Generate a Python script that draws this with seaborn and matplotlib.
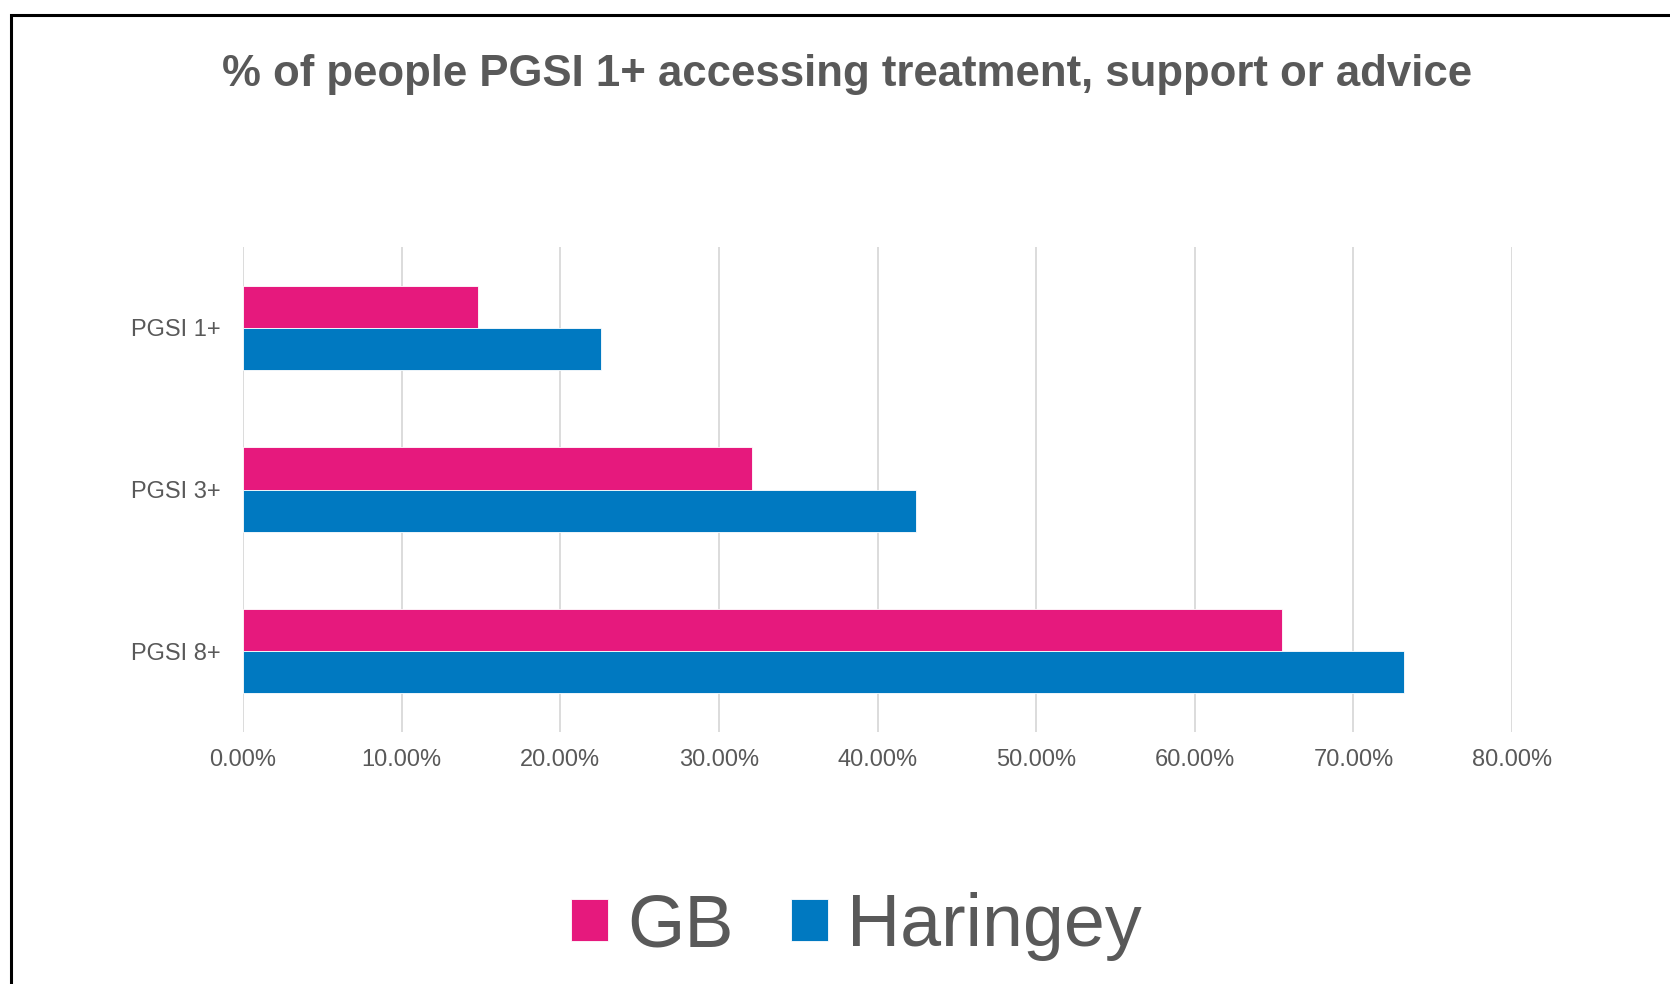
import matplotlib
matplotlib.use('Agg')
import matplotlib.pyplot as plt
import matplotlib.ticker as mtick
from matplotlib.patches import Rectangle
import pandas as pd
import seaborn as sns

# data
categories = ['PGSI 1+', 'PGSI 3+', 'PGSI 8+']
gb_values = [0.148, 0.321, 0.655]
haringey_values = [0.226, 0.424, 0.732]
series_names = ['GB', 'Haringey']

df = pd.DataFrame({
    'group': categories * 2,
    'value': gb_values + haringey_values,
    'series': [series_names[0]] * 3 + [series_names[1]] * 3,
})

sns.set_style('white')
plt.rcParams['font.family'] = ['Liberation Sans', 'DejaVu Sans']

grey = '#595959'
palette = {'GB': '#E6197D', 'Haringey': '#0079C1'}

fig = plt.figure(figsize=(16.7, 9.84), dpi=100)
ax = fig.add_axes([0.1455, 0.256, 0.7599, 0.493])

sns.barplot(data=df, y='group', x='value', hue='series', order=categories,
            hue_order=series_names, palette=palette, width=0.52,
            orient='h', ax=ax, edgecolor='white', linewidth=0.6, saturation=1)

ax.set_xlim(0, 0.8)
ax.set_ylim(2.5, -0.5)
ax.xaxis.set_major_locator(mtick.MultipleLocator(0.1))
ax.xaxis.set_major_formatter(mtick.PercentFormatter(1.0, decimals=2))
ax.grid(axis='x', color='#d9d9d9', linewidth=1.3)
ax.set_axisbelow(True)
ax.set_xlabel('')
ax.set_ylabel('')
ax.tick_params(axis='both', length=0, labelsize=17, labelcolor=grey)
ax.tick_params(axis='y', pad=16)
ax.tick_params(axis='x', pad=12)
for s in ax.spines.values():
    s.set_visible(False)

# title (no narrow font installed, so size chosen to match the width)
fig.text(0.507, 0.9126, '% of people PGSI 1+ accessing treatment, support or advice',
         ha='center', va='baseline', fontsize=31.5, fontweight='bold', color=grey)

# legend
ax.legend_.remove()
handles, labels = ax.get_legend_handles_labels()
leg = fig.legend(handles, labels, loc='center', bbox_to_anchor=(0.513, 0.058),
                 ncol=2, frameon=False, fontsize=53, handlelength=0.5,
                 handleheight=0.5, handletextpad=0.26, columnspacing=0.78,
                 borderaxespad=0)
for t in leg.get_texts():
    t.set_color(grey)

# outer frame (clipped at right and bottom)
fig.patches.append(Rectangle((0.0065, -0.1), 1.2, 1.0848, transform=fig.transFigure,
                             fill=False, edgecolor='black', linewidth=2.2))

fig.savefig('out.png', dpi=100)
